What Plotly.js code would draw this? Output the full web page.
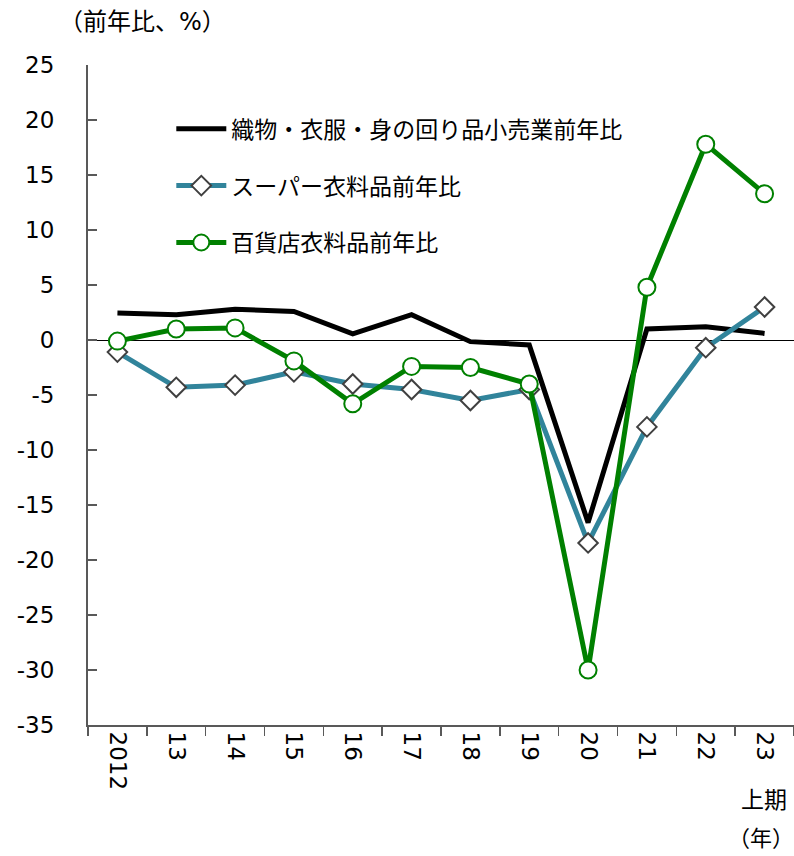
<!DOCTYPE html>
<html>
<head>
<meta charset="utf-8">
<script src="https://cdn.plot.ly/plotly-3.0.1.min.js"></script>
<style>
html,body{margin:0;padding:0;background:#fff;}
#chart{width:794px;height:856px;}
</style>
</head>
<body>
<div id="chart"></div>
<script>
var categories = ["2012","13","14","15","16","17","18","19","20","21","22","23"];
var seriesNames = ["織物・衣服・身の回り品小売業前年比","スーパー衣料品前年比","百貨店衣料品前年比"];
var textileRetail = [2.45, 2.3, 2.8, 2.6, 0.55, 2.3, -0.15, -0.45, -16.6, 1.0, 1.2, 0.6];
var superClothing = [-1.1, -4.3, -4.1, -2.9, -4.0, -4.5, -5.5, -4.5, -18.45, -7.9, -0.7, 3.0];
var deptClothing = [-0.1, 1.0, 1.1, -1.9, -5.8, -2.4, -2.5, -4.0, -30.0, 4.8, 17.8, 13.3];
var yTickVals = [-35, -30, -25, -20, -15, -10, -5, 0, 5, 10, 15, 20, 25];
var yTickText = ["-35", "-30", "-25", "-20", "-15", "-10", "-5", "0", "5", "10", "15", "20", "25"];
var yTitle = "（前年比、%）";
var xUnit = "（年）";
var lastNote = "上期";

var FONT = "DejaVu Sans, Noto Sans CJK JP, sans-serif";

var traces = [
  {x: categories, y: textileRetail, name: seriesNames[0], type: "scatter", mode: "lines",
   line: {color: "#000000", width: 5}, legendgroup: "a"},
  {x: categories, y: superClothing, name: seriesNames[1], type: "scatter", mode: "lines+markers",
   line: {color: "#31849B", width: 5},
   marker: {symbol: "diamond", size: 15, color: "#ffffff", line: {color: "#404040", width: 2}},
   legendgroup: "b"},
  {x: categories, y: deptClothing, name: seriesNames[2], type: "scatter", mode: "lines+markers",
   line: {color: "#008000", width: 5},
   marker: {symbol: "circle", size: 17, color: "#ffffff", line: {color: "#008000", width: 2}},
   legendgroup: "c"}
];

var layout = {
  width: 794, height: 856,
  margin: {l: 88, r: 0, t: 65, b: 131},
  paper_bgcolor: "#ffffff", plot_bgcolor: "#ffffff",
  font: {family: FONT, size: 22, color: "#000000"},
  showlegend: true,
  legend: {x: 0.118, y: 0.936, xanchor: "left", yanchor: "top",
           bgcolor: "rgba(0,0,0,0)", font: {size: 23, family: FONT},
           tracegroupgap: 24, itemwidth: 50, traceorder: "grouped"},
  xaxis: {type: "category", range: [-0.5, 11.5], showline: true, linecolor: "#595959", linewidth: 2,
          ticks: "outside", ticklen: 9, tickcolor: "#595959", tickwidth: 1.5, tickson: "boundaries",
          tickangle: 90, tickfont: {size: 23, family: FONT}, showgrid: false, zeroline: false,
          fixedrange: true},
  yaxis: {range: [-35, 25], tickmode: "array", tickvals: yTickVals, ticktext: yTickText,
          showline: true, linecolor: "#595959", linewidth: 2,
          ticks: "inside", ticklen: 9, tickcolor: "#595959", tickwidth: 1.5,
          tickfont: {size: 23, family: FONT}, ticklabelstandoff: 27,
          showgrid: false, zeroline: true, zerolinecolor: "#000000", zerolinewidth: 1},
  annotations: [
    {text: yTitle, xref: "paper", yref: "paper", x: -0.044, y: 1.065, xanchor: "left", yanchor: "middle",
     showarrow: false, font: {size: 24, family: FONT}},
    {text: lastNote, xref: "paper", yref: "paper", x: 0.958, y: -0.1136, xanchor: "center", yanchor: "middle",
     showarrow: false, font: {size: 23, family: FONT}},
    {text: xUnit, xref: "paper", yref: "paper", x: 0.953, y: -0.172, xanchor: "center", yanchor: "middle",
     showarrow: false, font: {size: 22, family: FONT}}
  ]
};

Plotly.newPlot("chart", traces, layout, {staticPlot: true});
</script>
</body>
</html>
